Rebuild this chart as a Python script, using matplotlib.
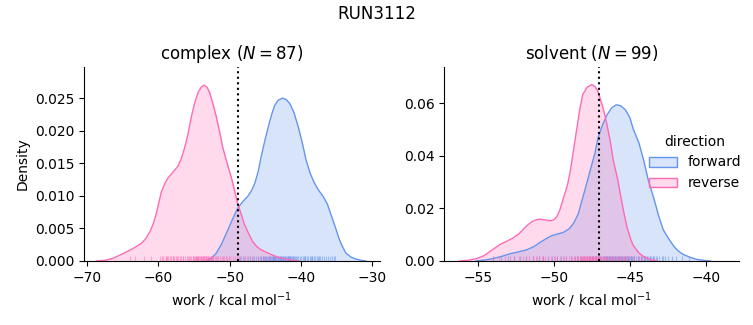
import matplotlib
matplotlib.use("Agg")
import matplotlib.pyplot as plt
import matplotlib.transforms as mtransforms
from matplotlib.colors import to_rgb
from matplotlib.patches import Patch

# ------------------------------------------------------------------ #
#  data                                        #
# ------------------------------------------------------------------ #
run_name = "RUN3112"
directions = ["forward", "reverse"]
colors = {"forward": "cornflowerblue", "reverse": "hotpink"}

# complex leg: KDE curves (work, density)
complex_fwd_x = [-53.3, -52.6, -51.9, -51.2, -50.5, -49.7, -48.9, -48.2, -47.5, -47.0,
                 -46.5, -46.0, -45.6, -45.1, -44.6, -44.1, -43.7, -43.2, -42.6, -42.1,
                 -41.6, -41.0, -40.4, -39.8, -39.3, -38.7, -38.1, -37.5, -36.9, -36.3,
                 -35.8, -35.2, -34.6, -34.1, -33.7, -33.0, -32.3, -31.6, -30.9]
complex_fwd_d = [0.0, 0.0004, 0.0012, 0.0025, 0.0042, 0.0062, 0.0081, 0.0091, 0.0099, 0.0107,
                 0.0119, 0.0138, 0.0160, 0.0184, 0.0206, 0.0226, 0.0239, 0.0247, 0.0250, 0.0248,
                 0.0242, 0.0228, 0.0206, 0.0180, 0.0155, 0.0134, 0.0119, 0.0108, 0.0099, 0.0087,
                 0.0071, 0.0052, 0.0032, 0.0020, 0.0012, 0.0006, 0.0003, 0.0001, 0.0]
complex_rev_x = [-68.7, -67.5, -66.4, -65.0, -63.6, -62.4, -61.8, -61.2, -60.7, -60.3,
                 -59.6, -59.1, -58.7, -58.0, -57.3, -56.8, -56.3, -55.8, -55.4, -54.9,
                 -54.4, -54.0, -53.6, -53.2, -52.8, -52.4, -51.9, -51.4, -51.0, -50.4,
                 -49.8, -49.3, -48.9, -48.4, -48.0, -47.4, -46.8, -46.2, -45.6, -44.8,
                 -44.0, -43.0, -42.1, -41.2, -40.3]
complex_rev_d = [0.0, 0.0001, 0.0004, 0.0011, 0.0019, 0.0027, 0.0034, 0.0045, 0.0058, 0.0073,
                 0.0106, 0.0119, 0.0127, 0.0136, 0.0145, 0.0157, 0.0175, 0.0198, 0.0221, 0.0244,
                 0.0260, 0.0267, 0.0270, 0.0267, 0.0258, 0.0243, 0.0222, 0.0197, 0.0175, 0.0151,
                 0.0129, 0.0107, 0.0088, 0.0072, 0.0058, 0.0043, 0.0030, 0.0022, 0.0017, 0.0013,
                 0.0009, 0.0005, 0.0003, 0.0001, 0.0]

# solvent leg: KDE curves
solvent_fwd_x = [-55.1, -54.5, -54.0, -53.4, -52.9, -52.3, -51.8, -51.3, -50.9, -50.5,
                 -50.2, -49.8, -49.4, -49.0, -48.7, -48.4, -48.2, -47.9, -47.6, -47.3,
                 -47.1, -46.8, -46.5, -46.2, -45.9, -45.6, -45.3, -45.0, -44.8, -44.4,
                 -44.1, -43.8, -43.4, -43.1, -42.8, -42.4, -42.1, -41.8, -41.5, -41.0,
                 -40.6, -40.1, -39.7]
solvent_fwd_d = [0.0, 0.0004, 0.0009, 0.0018, 0.0027, 0.0035, 0.0042, 0.0055, 0.0071, 0.0085,
                 0.0095, 0.0102, 0.0108, 0.0122, 0.0144, 0.0178, 0.0220, 0.0282, 0.0347, 0.0410,
                 0.0468, 0.0518, 0.0557, 0.0583, 0.0595, 0.0591, 0.0576, 0.0546, 0.0506, 0.0448,
                 0.0385, 0.0310, 0.0233, 0.0170, 0.0118, 0.0080, 0.0055, 0.0037, 0.0025, 0.0013,
                 0.0006, 0.0002, 0.0]
solvent_rev_x = [-56.2, -55.6, -55.1, -54.6, -54.2, -53.8, -53.5, -53.1, -52.7, -52.3,
                 -52.0, -51.7, -51.4, -51.1, -50.9, -50.5, -50.2, -50.0, -49.8, -49.6,
                 -49.4, -49.1, -48.9, -48.7, -48.5, -48.3, -48.1, -47.8, -47.5, -47.3,
                 -47.1, -46.8, -46.6, -46.3, -46.1, -45.8, -45.6, -45.4, -45.2, -45.0,
                 -44.8, -44.4, -44.1, -43.7, -43.2]
solvent_rev_d = [0.0, 0.0003, 0.0009, 0.0020, 0.0036, 0.0052, 0.0064, 0.0075, 0.0087, 0.0103,
                 0.0121, 0.0138, 0.0151, 0.0158, 0.0159, 0.0156, 0.0153, 0.0157, 0.0169, 0.0195,
                 0.0233, 0.0290, 0.0347, 0.0425, 0.0500, 0.0575, 0.0634, 0.0662, 0.0672, 0.0665,
                 0.0646, 0.0590, 0.0545, 0.0460, 0.0385, 0.0310, 0.0246, 0.0185, 0.0131, 0.0092,
                 0.0061, 0.0030, 0.0017, 0.0006, 0.0]

# individual work values (rug)
complex_fwd_w = [-48.6, -48.2, -47.9, -47.5, -47.2, -46.9, -46.6, -46.3,
                 -46.0, -45.8, -45.6, -45.4, -45.3, -45.2, -45.0, -44.9, -44.8, -44.6, -44.5,
                 -44.4, -44.3, -44.2, -44.1, -44.0, -43.95, -43.9, -43.8, -43.7, -43.6, -43.5,
                 -43.4, -43.3, -43.2, -43.1, -43.0, -42.9, -42.85, -42.8, -42.7, -42.6, -42.5,
                 -42.4, -42.3, -42.2, -42.1, -42.0, -41.9, -41.8, -41.75, -41.7, -41.6, -41.5,
                 -41.4, -41.3, -41.2, -41.1, -41.0, -40.8, -40.7, -40.6, -40.4, -40.2, -40.0,
                 -39.8, -39.6, -39.5, -39.4, -39.2, -39.0, -38.8, -38.6, -38.5, -38.4, -38.2,
                 -38.0, -37.8, -37.6, -37.5, -37.3, -37.0, -36.8, -36.5, -36.2, -36.0, -35.7,
                 -35.4, -35.2]
complex_rev_w = [-64.0, -63.3, -62.1, -61.0,
                 -59.8, -59.5, -59.3, -59.0, -58.9, -58.8, -58.6, -58.4, -58.2, -58.0, -57.9,
                 -57.8, -57.6, -57.4, -57.2, -57.0, -56.8, -56.6, -56.5, -56.3, -56.0, -55.8,
                 -55.7, -55.6, -55.4, -55.2, -55.1, -55.0, -54.9, -54.8, -54.7, -54.65, -54.6,
                 -54.5, -54.4, -54.3, -54.2, -54.1, -54.0, -53.9, -53.8, -53.7, -53.65, -53.6,
                 -53.5, -53.4, -53.3, -53.2, -53.1, -53.0, -52.9, -52.8, -52.7, -52.6, -52.5,
                 -52.4, -52.3, -52.1, -52.0, -51.8, -51.6, -51.4, -51.1, -50.9, -50.8, -50.6,
                 -50.4, -50.1, -49.9, -49.6, -49.3, -49.0, -48.7, -48.4,
                 -48.0, -47.6, -47.1, -46.7, -46.0, -45.6, -45.0, -44.5, -43.8]
solvent_fwd_w = [-54.0, -53.5, -53.0, -52.6, -52.2, -51.8, -51.4, -51.0, -50.7, -50.4,
                 -50.1, -49.8, -49.5, -49.2, -48.9, -48.6, -48.4, -48.2, -48.0, -47.8,
                 -47.7, -47.6, -47.5, -47.4, -47.3, -47.2, -47.1, -47.0, -46.95, -46.8,
                 -46.7, -46.65, -46.6, -46.55, -46.5, -46.45, -46.4, -46.35, -46.3, -46.25,
                 -46.2, -46.15, -46.1, -46.05, -46.0, -45.95, -45.9, -45.85, -45.8, -45.75,
                 -45.7, -45.65, -45.6, -45.55, -45.5, -45.45, -45.4, -45.35, -45.3, -45.25,
                 -45.2, -45.15, -45.1, -45.05, -45.0, -44.95, -44.9, -44.85, -44.8, -44.7,
                 -44.6, -44.5, -44.4, -44.3, -44.25, -44.2, -44.1, -44.05, -44.0, -43.9,
                 -43.85, -43.8, -43.7, -43.65, -43.6, -43.5, -43.45, -43.4, -43.3, -43.25,
                 -43.1, -42.9, -42.8, -42.7, -42.5, -42.2, -42.0, -41.6, -41.1]
solvent_rev_w = [-54.0, -53.6, -53.2, -52.9, -52.6, -52.3, -52.0,
                 -51.8, -51.6, -51.4, -51.2, -51.1, -51.0, -50.8, -50.7, -50.6, -50.4, -50.2,
                 -50.0, -49.9, -49.8, -49.6, -49.4, -49.3, -49.2, -49.0, -48.9, -48.8, -48.7,
                 -48.6, -48.5, -48.45, -48.4, -48.3, -48.25, -48.2, -48.15, -48.12, -48.1,
                 -48.05, -48.0, -47.95, -47.92, -47.9, -47.85, -47.8, -47.75, -47.72, -47.7,
                 -47.65, -47.6, -47.55, -47.52, -47.5, -47.45, -47.4, -47.35, -47.32, -47.3,
                 -47.25, -47.2, -47.15, -47.12, -47.1, -47.05, -47.0, -46.95, -46.92, -46.9,
                 -46.85, -46.8, -46.72, -46.7, -46.6, -46.52, -46.5, -46.4, -46.3, -46.25,
                 -46.2, -46.1, -46.0, -45.95, -45.9, -45.8, -45.7, -45.65, -45.6, -45.5,
                 -45.4, -45.35, -45.3, -45.2, -45.1, -44.9, -44.7, -44.5, -44.3, -44.0]

panels = [
    {"name": "complex", "n": 87, "dg": -48.9, "xlim": (-70.4, -29.0), "ylim": (0, 0.0298),
     "xticks": [-70, -60, -50, -40, -30], "yticks": [0, 0.005, 0.010, 0.015, 0.020, 0.025],
     "curves": {"forward": (complex_fwd_x, complex_fwd_d), "reverse": (complex_rev_x, complex_rev_d)},
     "rug": {"forward": complex_fwd_w, "reverse": complex_rev_w}},
    {"name": "solvent", "n": 99, "dg": -47.0, "xlim": (-57.2, -37.8), "ylim": (0, 0.0739),
     "xticks": [-55, -50, -45, -40], "yticks": [0, 0.02, 0.04, 0.06],
     "curves": {"forward": (solvent_fwd_x, solvent_fwd_d), "reverse": (solvent_rev_x, solvent_rev_d)},
     "rug": {"forward": solvent_fwd_w, "reverse": solvent_rev_w}},
]

# ------------------------------------------------------------------ #
#  plotting                                                           #
# ------------------------------------------------------------------ #
fig = plt.figure(figsize=(7.53, 3.25), dpi=100)
ax_l = fig.add_axes([0.112, 0.197, 0.392, 0.597])
ax_r = fig.add_axes([0.590, 0.197, 0.392, 0.597])

for ax, p in zip([ax_l, ax_r], panels):
    rug_tr = mtransforms.blended_transform_factory(ax.transData, ax.transAxes)
    for d in directions:
        xs, ds = p["curves"][d]
        c = colors[d]
        ax.fill_between(xs, ds, 0, color=c, alpha=0.25, linewidth=0)
        ax.plot(xs, ds, color=c, lw=1)
        ax.vlines(p["rug"][d], 0, 0.025, transform=rug_tr, color=c, lw=0.8, alpha=0.5)
    ax.axvline(p["dg"], color="black", ls=":", lw=1.5)
    ax.set_xlim(*p["xlim"])
    ax.set_ylim(*p["ylim"])
    ax.set_xticks(p["xticks"])
    ax.set_yticks(p["yticks"])
    ax.set_title(f"{p['name']} ($N={p['n']}$)", fontsize=12)
    ax.set_xlabel("work / kcal mol$^{-1}$")
    ax.spines["top"].set_visible(False)
    ax.spines["right"].set_visible(False)

ax_l.set_ylabel("Density")

handles = [Patch(facecolor=(*to_rgb(colors[d]), 0.25), edgecolor=colors[d]) for d in directions]
fig.legend(handles, directions, title="direction", frameon=False,
           loc="center left", bbox_to_anchor=(0.845, 0.5), fontsize=10, title_fontsize=10)

fig.suptitle(run_name, fontsize=12, y=0.985)

fig.savefig("out.png", dpi=100)
